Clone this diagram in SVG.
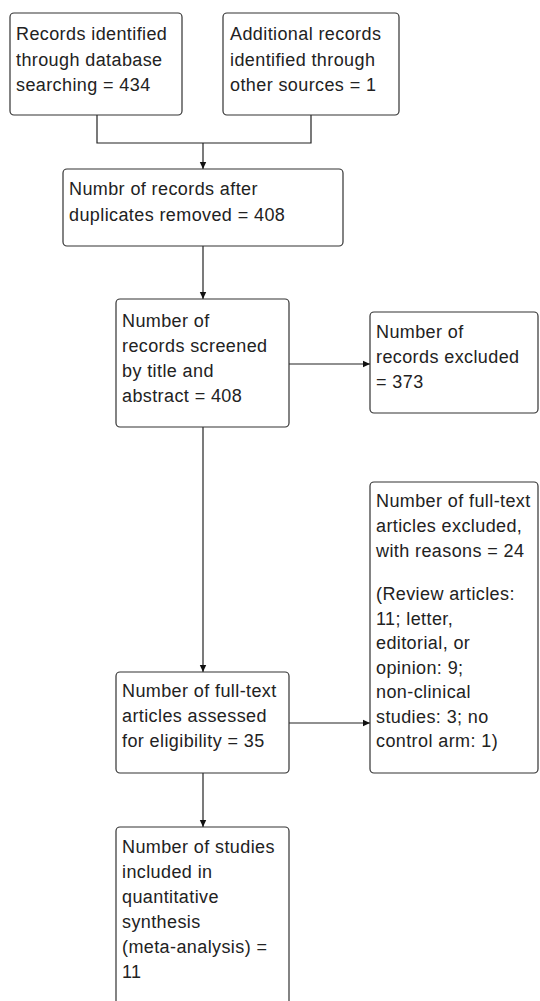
<svg xmlns="http://www.w3.org/2000/svg" width="540" height="1001" viewBox="0 0 540 1001">
<defs>
<style>
.box{fill:#fff;stroke:#333;stroke-width:1.2}
.t{font-family:"Liberation Sans",Arial,sans-serif;font-size:18px;letter-spacing:0.4px;fill:#222}
.c{fill:none;stroke:#222;stroke-width:1.2}
</style>
<marker id="ah" markerUnits="userSpaceOnUse" markerWidth="8" markerHeight="8" refX="7" refY="4" orient="auto">
<path d="M0,0.8 L7,4 L0,7.2 Z" fill="#111"/>
</marker>
</defs>
<rect width="540" height="1001" fill="#fff"/>
<g id="connectors">
<path class="c" d="M97,115 V143 H311 V115"/>
<path class="c" d="M203,143 V169" marker-end="url(#ah)"/>
<path class="c" d="M203,246 V299" marker-end="url(#ah)"/>
<path class="c" d="M289,364 H370" marker-end="url(#ah)"/>
<path class="c" d="M203,427 V672" marker-end="url(#ah)"/>
<path class="c" d="M289,723 H370" marker-end="url(#ah)"/>
<path class="c" d="M203,773 V827" marker-end="url(#ah)"/>
</g>
<g id="n1">
<rect class="box" x="10" y="13" width="172" height="102" rx="4"/>
<text class="t" x="16" y="40">Records identified<tspan x="16" dy="25.5">through database</tspan><tspan x="16" dy="25.5">searching = 434</tspan></text>
</g>
<g id="n2">
<rect class="box" x="223" y="13" width="176" height="102" rx="4"/>
<text class="t" x="230" y="40">Additional records<tspan x="230" dy="25.5">identified through</tspan><tspan x="230" dy="25.5">other sources = 1</tspan></text>
</g>
<g id="n3">
<rect class="box" x="63" y="169" width="280" height="77" rx="4"/>
<text class="t" x="69" y="195">Numbr of records after<tspan x="69" dy="26">duplicates removed = 408</tspan></text>
</g>
<g id="n4">
<rect class="box" x="116" y="299" width="173" height="128" rx="4"/>
<text class="t" x="122" y="327">Number of<tspan x="122" dy="25">records screened</tspan><tspan x="122" dy="25">by title and</tspan><tspan x="122" dy="25">abstract = 408</tspan></text>
</g>
<g id="n5">
<rect class="box" x="370" y="312" width="168" height="101" rx="4"/>
<text class="t" x="376" y="338">Number of<tspan x="376" dy="25">records excluded</tspan><tspan x="376" dy="25">= 373</tspan></text>
</g>
<g id="n6">
<rect class="box" x="370" y="482" width="168" height="291" rx="4"/>
<text class="t" x="376" y="507">Number of full-text<tspan x="376" dy="25">articles excluded,</tspan><tspan x="376" dy="25">with reasons = 24</tspan><tspan x="376" dy="43">(Review articles:</tspan><tspan x="376" dy="24.5">11; letter,</tspan><tspan x="376" dy="24.5">editorial, or</tspan><tspan x="376" dy="24.5">opinion: 9;</tspan><tspan x="376" dy="24.5">non-clinical</tspan><tspan x="376" dy="24.5">studies: 3; no</tspan><tspan x="376" dy="24.5">control arm: 1)</tspan></text>
</g>
<g id="n7">
<rect class="box" x="116" y="672" width="173" height="101" rx="4"/>
<text class="t" x="122" y="697">Number of full-text<tspan x="122" dy="25">articles assessed</tspan><tspan x="122" dy="25">for eligibility = 35</tspan></text>
</g>
<g id="n8">
<rect class="box" x="116" y="827" width="173" height="190" rx="4"/>
<text class="t" x="122" y="853">Number of studies<tspan x="122" dy="25">included in</tspan><tspan x="122" dy="25">quantitative</tspan><tspan x="122" dy="25">synthesis</tspan><tspan x="122" dy="25">(meta-analysis) =</tspan><tspan x="122" dy="25">11</tspan></text>
</g>
</svg>
